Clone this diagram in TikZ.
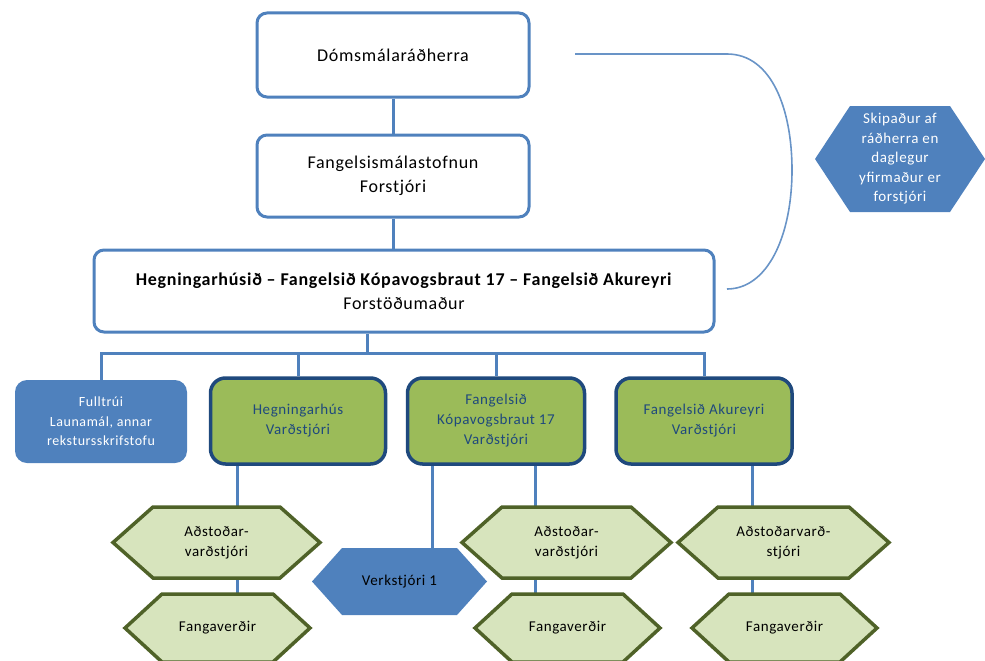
\documentclass[tikz,border=0pt]{standalone}
\usepackage{fontspec}
\setmainfont{Carlito}[LetterSpace=4]
\usetikzlibrary{backgrounds,calc}
\definecolor{obl}{HTML}{4F81BD}
\definecolor{dbl}{HTML}{1F497D}
\definecolor{grn}{HTML}{9BBB59}
\definecolor{lgr}{HTML}{D7E4BD}
\definecolor{olv}{HTML}{4F6228}
% #1 path style, #2 text style, #3 name, #4 x, #5 y, #6 half width, #7 half height, #8 inset, #9 text
\newcommand\hexnode[9]{%
  \path[#1] ({#4-#6},#5) -- ({#4-#6+#8},{#5-#7}) -- ({#4+#6-#8},{#5-#7}) -- ({#4+#6},#5)
    -- ({#4+#6-#8},{#5+#7}) -- ({#4-#6+#8},{#5+#7}) -- cycle;
  \node[#2, minimum width={2*#6}, minimum height={2*#7}] (#3) at (#4,#5) {#9};
}
\begin{document}
\begin{tikzpicture}[x=1pt,y=-1pt,
  topbox/.style={draw=obl, line width=3pt, fill=white, rounded corners=10pt,
    align=center, inner sep=0pt, font=\fontsize{18}{24}\selectfont},
  greenbox/.style={draw=dbl, line width=3.5pt, fill=grn, rounded corners=15pt,
    minimum width=175pt, minimum height=86pt, align=center, inner sep=0pt,
    text=dbl, font=\fontsize{15}{20}\selectfont},
  bluebox/.style={fill=obl, rounded corners=12pt, align=center, inner sep=0pt,
    text=white, font=\fontsize{14}{19.5}\selectfont},
  hexpath/.style={draw=olv, line width=3.5pt, fill=lgr, line join=miter},
  bluehexpath/.style={fill=obl},
  hextext/.style={align=center, inner sep=0pt, text=black, font=\fontsize{15}{20}\selectfont},
  bluehextext/.style={align=center, inner sep=0pt, text=white, font=\fontsize{15}{19.5}\selectfont},
  conn/.style={draw=obl, line width=3pt},
  curveline/.style={draw=obl!85, line width=1.6pt}
]
\useasboundingbox (0,0) rectangle (985,661);

% top boxes
\node[topbox, minimum width=272pt, minimum height=84pt] (dom) at (393,55) {Dómsmálaráðherra};
\node[topbox, minimum width=272pt, minimum height=82pt] (fang) at (393,176) {Fangelsismálastofnun\\Forstjóri};
\node[topbox, minimum width=620pt, minimum height=82pt] (big) at (404,291)
  {\textbf{Hegningarhúsið – Fangelsið Kópavogsbraut 17 – Fangelsið Akureyri}\\Forstöðumaður};

% second level
\node[bluebox, minimum width=172pt, minimum height=83pt] (fulltrui) at (101,421.5)
  {Fulltrúi\\Launamál, annar\\rekstursskrifstofu};
\node[greenbox] (heg) at (298,421) {Hegningarhús\\Varðstjóri};
\node[greenbox, minimum width=177pt] (kop) at (496,421) {Fangelsið\\Kópavogsbraut 17\\Varðstjóri};
\node[greenbox, minimum width=176pt] (aku) at (704,421) {Fangelsið Akureyri\\Varðstjóri};

% hexagons
\hexnode{hexpath}{hextext}{a1}{216.5}{542.5}{103.5}{35.5}{40}{Aðstoðar-\\varðstjóri}
\hexnode{hexpath}{hextext}{f1}{217.5}{628}{92.5}{34}{37}{Fangaverðir}
\hexnode{bluehexpath}{hextext}{vk}{399.5}{581.5}{87.5}{33.5}{30}{Verkstjóri 1}
\hexnode{hexpath}{hextext}{a2}{566.5}{542.5}{104.5}{35.5}{40}{Aðstoðar-\\varðstjóri}
\hexnode{hexpath}{hextext}{f2}{567.5}{628}{92.5}{34}{37}{Fangaverðir}
\hexnode{hexpath}{hextext}{a3}{783.5}{542.5}{105.5}{35.5}{40}{Aðstoðarvarð-\\stjóri}
\hexnode{hexpath}{hextext}{f3}{784.5}{628}{92.5}{34}{37}{Fangaverðir}
\hexnode{bluehexpath}{bluehextext}{sk}{900}{159}{85}{53}{35}{Skipaður af\\ráðherra en\\daglegur\\yfirmaður er\\forstjóri}

% connectors
\coordinate (bus) at (367,353);
\coordinate (xA) at (237,0);
\coordinate (xB) at (432,0);
\coordinate (xC) at (535,0);
\coordinate (xD) at (752,0);
\coordinate (cs) at (575,54);
\coordinate (ce) at (727,289);
\begin{scope}[on background layer]
  \draw[conn] (dom.south) -- (fang.north);
  \draw[conn] (fang.south) -- (fang.south |- big.north);
  \draw[conn] (big.south -| bus) -- (bus);
  \draw[conn] (bus) -| (fulltrui.north);
  \draw[conn] (bus) -| (heg.north);
  \draw[conn] (bus) -| (kop.north);
  \draw[conn] (bus) -| (aku.north);
  \draw[conn] (heg.south -| xA) -- (a1.north -| xA);
  \draw[conn] (a1.south -| xA) -- (f1.north -| xA);
  \draw[conn] (kop.south -| xB) -- (vk.north -| xB);
  \draw[conn] (kop.south -| xC) -- (a2.north -| xC);
  \draw[conn] (a2.south -| xC) -- (f2.north -| xC);
  \draw[conn] (aku.south -| xD) -- (a3.north -| xD);
  \draw[conn] (a3.south -| xD) -- (f3.north -| xD);
\end{scope}
\draw[curveline] (cs) -- (727,54) .. controls (772,54) and (792,110) .. (792,170)
  .. controls (792,235) and (768,289) .. (ce);
\end{tikzpicture}
\end{document}
